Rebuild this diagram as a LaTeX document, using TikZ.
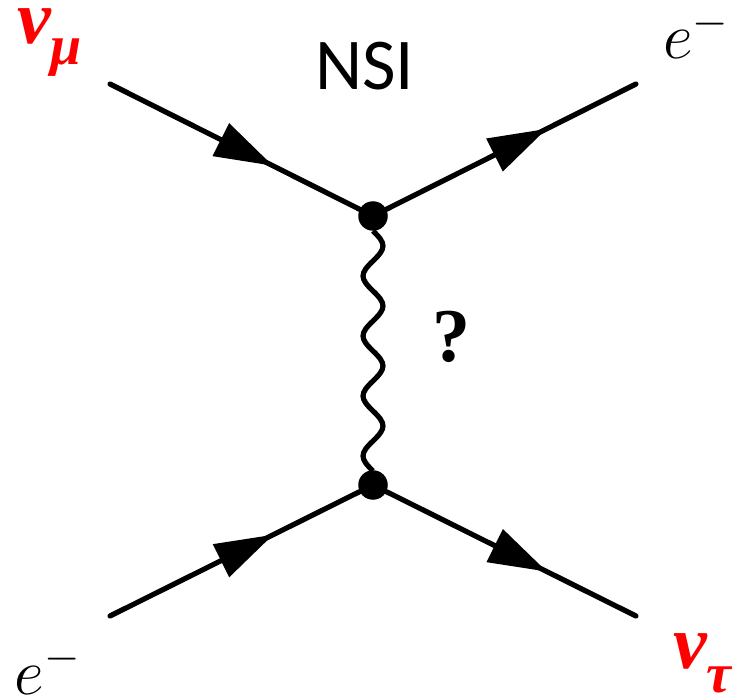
\RequirePackage{fix-cm}
\documentclass[tikz,border=0pt]{standalone}
\usepackage{fontspec}
\setmainfont{Liberation Serif}
\newfontfamily\nsifont{Carlito}
\usetikzlibrary{decorations.markings}
\newcommand{\nulabel}[2]{\textcolor{red}{\bfseries\itshape\fontsize{76}{76}\selectfont v\kern0pt\raisebox{#2}{\fontsize{56}{56}\selectfont #1}}}
\newcommand{\elabel}{\fontsize{65}{65}\selectfont\(e^-\)}
\tikzset{
  x=1pt,y=-1pt,
  vertexdot/.style={circle,fill=black,draw=none,minimum size=29.5pt,inner sep=0pt},
  fermion/.style={line width=5.2pt,line cap=round,postaction={decorate},
    decoration={markings,mark=at position #1 with {\fill[black] (2,0)--(-56,18.5)--(-56,-18.5)--cycle;}}},
  boson/.style={line width=5.2pt},
  lbl/.style={inner sep=0pt,outer sep=0pt,anchor=base west},
}
\newcommand{\wavecycle}{.. controls +(13.3,12.7) and +(13.3,-12.7) .. ++(0,30) .. controls +(-13.3,12.7) and +(-13.3,-12.7) .. ++(0,30)}
\begin{document}
\begin{tikzpicture}
\useasboundingbox (0,0) rectangle (732,698);
\node[vertexdot] (top) at (373,216) {};
\node[vertexdot] (bot) at (373,485) {};
\coordinate (tl) at (110,84);
\coordinate (tr) at (636,84);
\coordinate (bl) at (110,616);
\coordinate (br) at (636,616);
\draw[fermion=180pt] (tl) -- (top);
\draw[fermion=177pt] (top) -- (tr);
\draw[fermion=180pt] (bl) -- (bot);
\draw[fermion=177pt] (bot) -- (br);
\draw[boson] (top.south) \wavecycle \wavecycle \wavecycle \wavecycle;
\node[lbl] (numu) at (17,44) {\nulabel{μ}{-21pt}};
\node[lbl] (nutau) at (673,668) {\nulabel{τ}{-24pt}};
\node[lbl] (eout) at (663,59) {\elabel};
\node[lbl] (ein) at (15,694) {\elabel};
\node[lbl,font=\nsifont\fontsize{73}{73}\selectfont] (nsi) at (315,90) {NSI};
\node[font=\bfseries\fontsize{76}{76}\selectfont] (q) at (451,337) {?};
\end{tikzpicture}
\end{document}
